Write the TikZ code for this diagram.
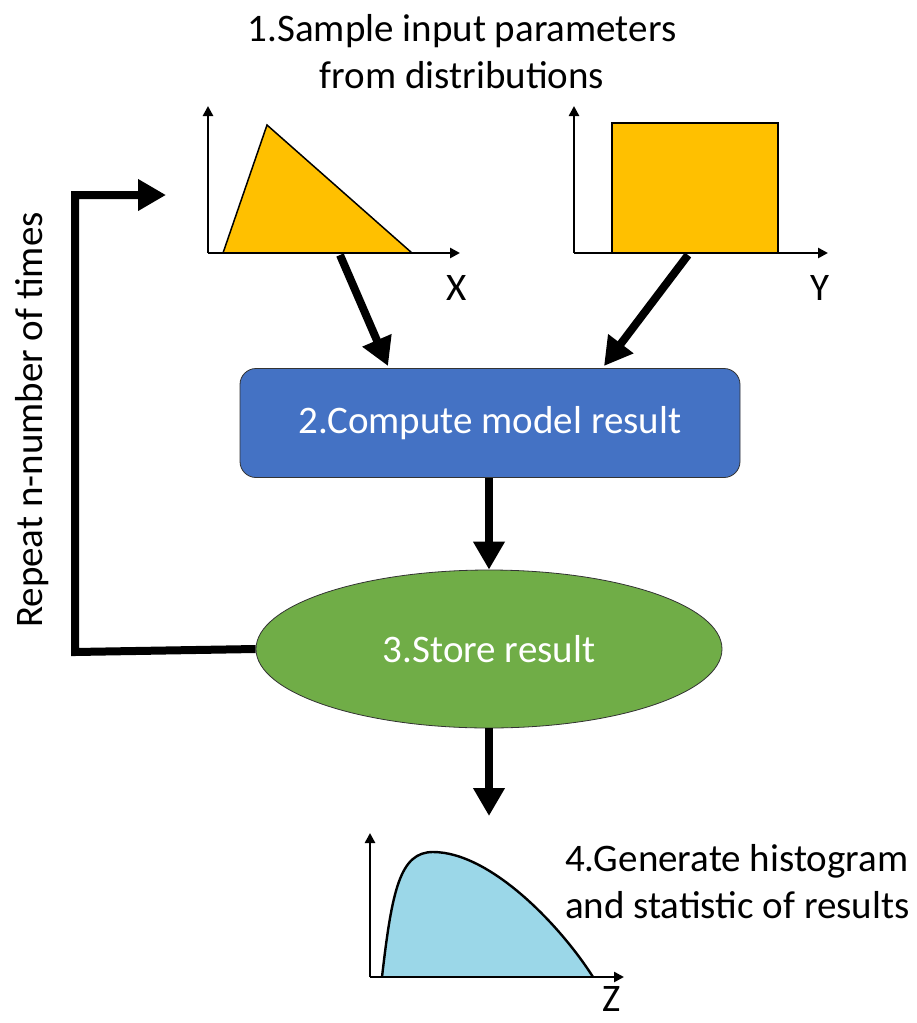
\documentclass[tikz,border=0pt]{standalone}
\usepackage{fontspec}
\setmainfont{Carlito}
\usetikzlibrary{shapes.geometric, arrows.meta, positioning}

\definecolor{gold}{RGB}{255,192,0}
\definecolor{officeblue}{RGB}{68,114,196}
\definecolor{officegreen}{RGB}{112,173,71}
\definecolor{histblue}{RGB}{155,215,232}

\begin{document}
\begin{tikzpicture}[
    x=0.5pt, y=-0.5pt,
    font=\fontsize{19.5}{23.5}\selectfont,
    flow/.style={-{Triangle[width=15pt,length=14pt]}, line width=4pt},
    axis/.style={-{Triangle[width=5pt,length=5pt]}, line width=1.4pt},
    process/.style={
        rectangle,
        rounded corners=8pt,
        draw=black!80,
        fill=officeblue,
        text=white,
        minimum width=250pt,
        minimum height=54.5pt
    },
    storage/.style={
        ellipse,
        draw=black!80,
        fill=officegreen,
        text=white,
        minimum width=233pt,
        minimum height=79pt,
        inner sep=0pt
    },
    caption/.style={align=center}
]
\useasboundingbox (0,0) rectangle (916,1023);

% Nodes
\node[caption] (sample) at (462,52) {1.Sample input parameters\\from distributions};
\node[process] (compute) at (490,423) {2.Compute model result};
\node[storage] (store) at (489,649) {3.Store result};
\node[caption, anchor=west, align=left] (generate) at (558,882) {4.Generate histogram\\and statistic of results};
\node[rotate=90] (repeat) at (32,420) {Repeat n-number of times};

% Distribution of X
\draw[fill=gold, line width=0.75pt] (223,253) -- (267,125) -- (412,253) -- cycle;
\draw[axis] (208,253) -- (208,106);
\draw[axis] (208,253) -- (460,253);
\node (xlabel) at (457,288) {X};

% Distribution of Y
\draw[fill=gold, line width=0.75pt] (612,253) rectangle (778,123);
\draw[axis] (574,253) -- (574,106);
\draw[axis] (574,253) -- (828,253);
\node (ylabel) at (820,288) {Y};

% Distribution of Z
\draw[fill=histblue, line width=1.2pt] (382,977) .. controls (392,890) and (400,852) .. (433,852)
    .. controls (490,852) and (560,925) .. (593,977);
\draw[axis] (370,977) -- (370,833);
\draw[axis] (370,977) -- (624,977);
\node[inner sep=1pt] (zlabel) at (612,999) {Z};

% Edges
\coordinate (xout) at (340,255);
\coordinate (yout) at (688,255);
\coordinate (xin) at (388,366);
\coordinate (yin) at (604,366);
\coordinate (hist) at (489,816);
\coordinate (loopend) at (166,195);

\draw[flow] (xout) -- (xin);
\draw[flow] (yout) -- (yin);
\draw[flow] (compute.south -| store.north) -- (store.north);
\draw[flow] (store.south) -- (hist);
\draw[flow] (store.west) -- (75,652) |- (loopend);

\end{tikzpicture}
\end{document}
